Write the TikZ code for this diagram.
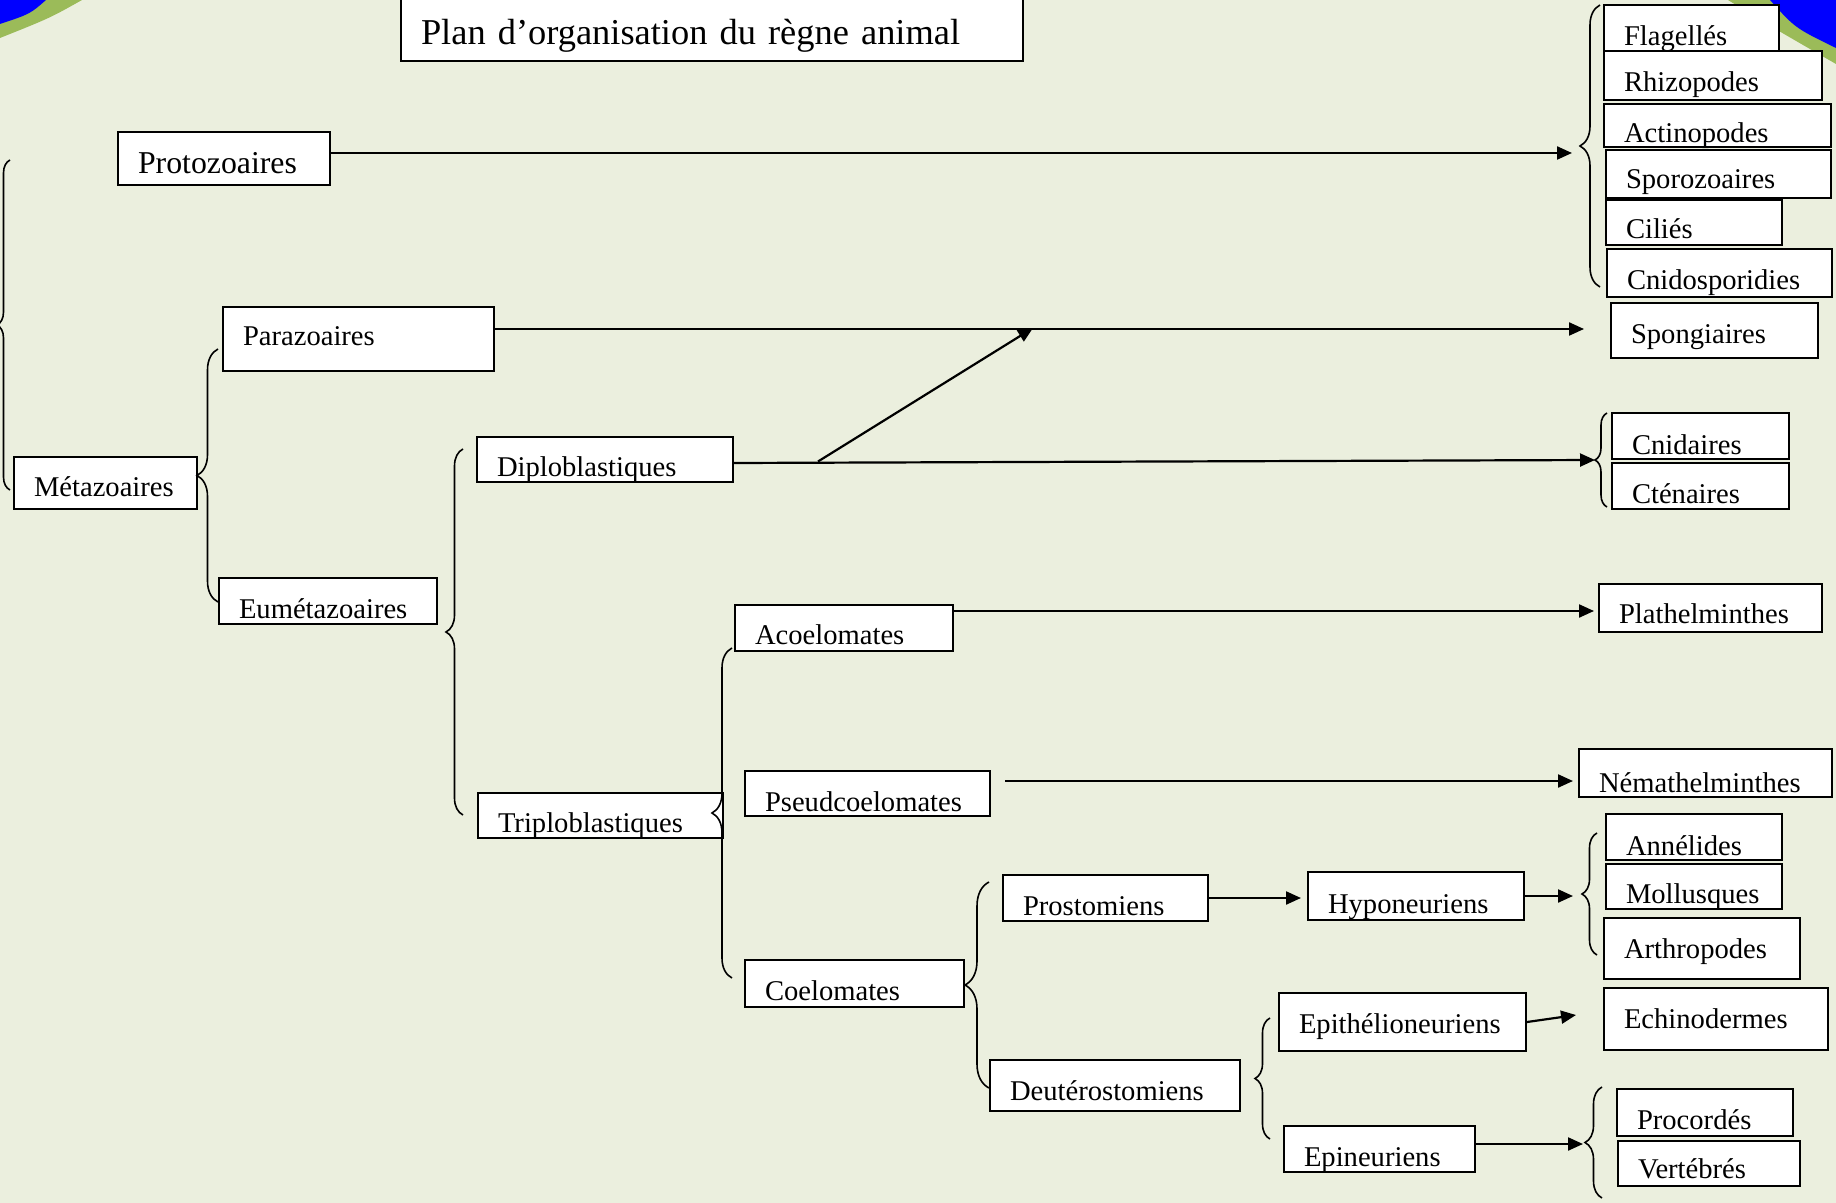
\documentclass[tikz,border=0pt]{standalone}
\usepackage{fontspec}
\setmainfont{Liberation Serif}
\usetikzlibrary{arrows.meta,calc,decorations.pathreplacing}
\definecolor{Backdrop}{HTML}{EBEFDE}
\definecolor{Olive}{HTML}{9BBB59}
\definecolor{Royal}{HTML}{0000FF}

% [style]{name}{x1}{y1}{x2}{y2}{baseline}{text}, all in pixels
\newcommand{\taxon}[8][]{%
  \pgfmathsetmacro{\txW}{(#5-#3-40)*0.5}%
  \pgfmathsetmacro{\txH}{(#7-#4)*0.5}%
  \pgfmathsetmacro{\txD}{(#6-#7)*0.5}%
  \node[taxbox,#1,text width=\txW pt,text height=\txH pt,text depth=\txD pt] (#2) at (#3,#4) {#8};}

\begin{document}
\begin{tikzpicture}[x=0.5pt,y=-0.5pt,
    taxbox/.style={draw,fill=white,line width=1pt,anchor=north west,align=left,
      inner xsep=10pt,inner ysep=0pt,font=\fontsize{14.3}{17}\selectfont},
    arr/.style={-{Triangle[length=7.5pt,width=6.5pt]},line width=1.1pt},
    curly/.style={decorate,decoration={brace,amplitude=#1},line width=0.8pt}
  ]
    \useasboundingbox (0,0) rectangle (1836,1203);
    \fill[Backdrop] (0,0) rectangle (1836,1203);
    % corner swooshes
    \fill[Olive] (0,0) -- (82,0) .. controls (50,18) .. (0,38) -- cycle;
    \fill[Royal] (0,0) -- (46,0) .. controls (30,14) .. (0,24) -- cycle;
    \fill[Olive] (1836,0) -- (1728,0) .. controls (1770,26) .. (1836,64) -- cycle;
    \fill[Royal] (1836,0) -- (1770,0) .. controls (1795,28) .. (1836,48) -- cycle;

    \taxon[font=\fontsize{18.2}{22}\selectfont]{title}{400}{-4}{1022}{60}{44}{Plan d’organisation du règne animal}

    % left part of the tree
    \taxon[font=\fontsize{15.9}{19}\selectfont]{proto}{117}{131}{329}{184}{173}{Protozoaires}
    \taxon{meta}{13}{456}{196}{508}{495}{Métazoaires}
    \taxon{para}{222}{306}{493}{370}{345}{Parazoaires}
    \taxon{eumeta}{218}{577}{436}{623}{617}{Eumétazoaires}
    \taxon{diplo}{476}{436}{732}{481}{475}{Diploblastiques}
    \taxon{triplo}{477}{792}{722}{837}{831}{Triploblastiques}
    \taxon{acoelo}{734}{604}{952}{650}{643}{Acoelomates}
    \taxon{pseudo}{744}{770}{989}{815}{810}{Pseudcoelomates}
    \taxon{coelo}{744}{959}{963}{1006}{999}{Coelomates}
    \taxon{prosto}{1002}{874}{1207}{920}{914}{Prostomiens}
    \taxon{hypo}{1307}{871}{1523}{919}{912}{Hyponeuriens}
    \taxon{deut}{989}{1059}{1239}{1110}{1099}{Deutérostomiens}
    \taxon{epith}{1278}{992}{1525}{1050}{1032}{Epithélioneuriens}
    \taxon{epin}{1283}{1125}{1474}{1171}{1165}{Epineuriens}

    % right column
    \taxon{flag}{1603}{4}{1778}{50}{45}{Flagellés}
    \taxon{rhizo}{1603}{50}{1821}{99}{91}{Rhizopodes}
    \taxon{actino}{1603}{103}{1830}{146}{142}{Actinopodes}
    \taxon{sporo}{1605}{149}{1830}{197}{188}{Sporozoaires}
    \taxon{cilies}{1605}{199}{1781}{244}{238}{Ciliés}
    \taxon{cnidos}{1606}{248}{1831}{296}{289}{Cnidosporidies}
    \taxon{spong}{1610}{302}{1817}{357}{343}{Spongiaires}
    \taxon{cnid}{1611}{412}{1788}{458}{453}{Cnidaires}
    \taxon{cten}{1611}{462}{1788}{508}{502}{Cténaires}
    \taxon{plath}{1598}{583}{1821}{631}{622}{Plathelminthes}
    \taxon{nema}{1578}{748}{1831}{796}{791}{Némathelminthes}
    \taxon{anne}{1605}{813}{1781}{859}{854}{Annélides}
    \taxon{mollu}{1605}{863}{1781}{908}{902}{Mollusques}
    \taxon{arthro}{1603}{917}{1799}{978}{957}{Arthropodes}
    \taxon{echino}{1603}{987}{1827}{1049}{1027}{Echinodermes}
    \taxon{procor}{1616}{1088}{1792}{1135}{1128}{Procordés}
    \taxon{verteb}{1617}{1140}{1799}{1185}{1177}{Vertébrés}

    % braces
    \coordinate (rootLo) at (10,490);     \coordinate (rootHi) at (10,160);
    \coordinate (metaLo) at (218,602);    \coordinate (metaHi) at (218,349);
    \coordinate (eumetaLo) at (463,815);  \coordinate (eumetaHi) at (463,449);
    \coordinate (triploLo) at (732,978);  \coordinate (triploHi) at (732,648);
    \coordinate (coeloLo) at (989,1088);  \coordinate (coeloHi) at (989,882);
    \coordinate (deutLo) at (1270,1139);  \coordinate (deutHi) at (1270,1018);
    \coordinate (protoLo) at (1600,287);  \coordinate (protoHi) at (1600,5);
    \coordinate (diploLo) at (1607,507);  \coordinate (diploHi) at (1607,413);
    \coordinate (hypoLo) at (1597,955);   \coordinate (hypoHi) at (1597,833);
    \coordinate (epinLo) at (1602,1198);  \coordinate (epinHi) at (1602,1087);
    \draw[curly=6.5pt] (rootLo) -- (rootHi);
    \draw[curly=10.5pt] (metaLo) -- (metaHi);
    \draw[curly=8.5pt] (eumetaLo) -- (eumetaHi);
    \draw[curly=10pt] (triploLo) -- (triploHi);
    \draw[curly=12pt] (coeloLo) -- (coeloHi);
    \draw[curly=7.5pt] (deutLo) -- (deutHi);
    \draw[curly=10pt] (protoLo) -- (protoHi);
    \draw[curly=6pt] (diploLo) -- (diploHi);
    \draw[curly=7.5pt] (hypoLo) -- (hypoHi);
    \draw[curly=8.5pt] (epinLo) -- (epinHi);

    % arrows
    \coordinate (protoTip) at (1572,153);
    \coordinate (paraTip) at (1584,329);
    \coordinate (diploTip) at (1595,460);
    \coordinate (fork) at (818,461.5);
    \coordinate (forkTip) at (1033,328);
    \coordinate (acoeloTip) at (1594,611);
    \coordinate (pseudoTip) at (1573,781);
    \coordinate (hypoTip) at (1573,896);
    \coordinate (epithTip) at (1576,1015);
    \coordinate (epinTip) at (1583,1144);
    \draw[arr] (proto.east |- protoTip) -- (protoTip);
    \draw[arr] (para.east |- paraTip) -- (paraTip);
    \draw[arr] ($(diplo.east)+(0,3.5)$) -- (diploTip);
    \draw[arr] (fork) -- (forkTip);
    \draw[arr] (acoelo.east |- acoeloTip) -- (acoeloTip);
    \draw[arr,shorten <=7pt] (pseudo.east |- pseudoTip) -- (pseudoTip);
    \draw[arr,shorten >=3pt] (prosto.east) -- (prosto.east -| hypo.west);
    \draw[arr] (hypo.east |- hypoTip) -- (hypoTip);
    \draw[arr] (epith.east) -- (epithTip);
    \draw[arr] (epin.east |- epinTip) -- (epinTip);
  \end{tikzpicture}
\end{document}
